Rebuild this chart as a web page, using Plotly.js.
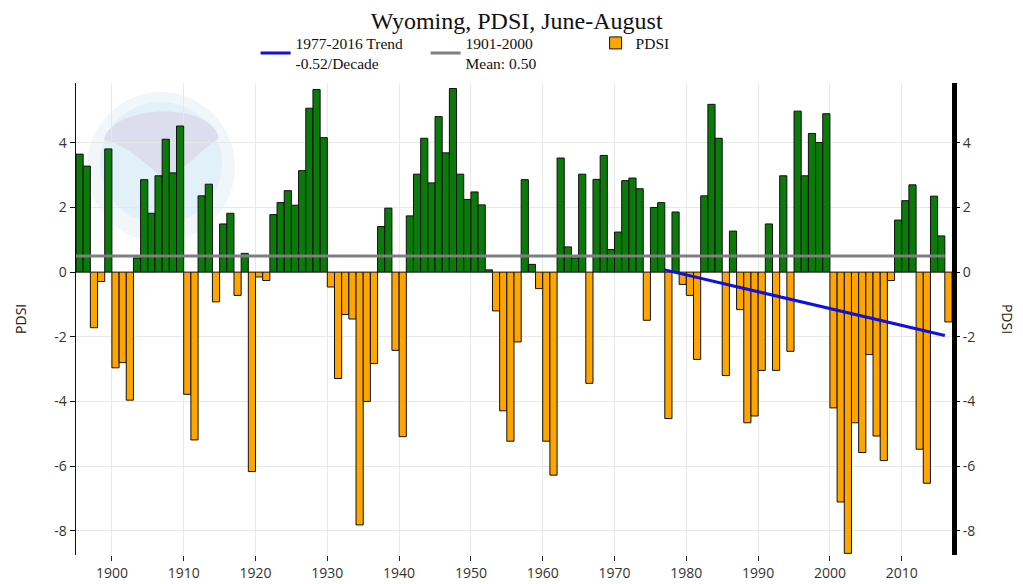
<!DOCTYPE html>
<html>
<head>
<meta charset="utf-8">
<script src="https://cdn.plot.ly/plotly-3.0.1.min.js"></script>
<style>html,body{margin:0;padding:0;background:#fff;}#chart{width:1023px;height:584px;}</style>
</head>
<body>
<div id="chart"></div>
<script>
var years = [1895,1896,1897,1898,1899,1900,1901,1902,1903,1904,1905,1906,1907,1908,1909,
1910,1911,1912,1913,1914,1915,1916,1917,1918,1919,1920,1921,1922,1923,1924,1925,1926,1927,1928,1929,
1930,1931,1932,1933,1934,1935,1936,1937,1938,1939,1940,1941,1942,1943,1944,1945,1946,1947,1948,1949,
1950,1951,1952,1953,1954,1955,1956,1957,1958,1959,1960,1961,1962,1963,1964,1965,1966,1967,1968,1969,
1970,1971,1972,1973,1974,1975,1976,1977,1978,1979,1980,1981,1982,1983,1984,1985,1986,1987,1988,1989,
1990,1991,1992,1993,1994,1995,1996,1997,1998,1999,2000,2001,2002,2003,2004,2005,2006,2007,2008,2009,
2010,2011,2012,2013,2014,2015,2016];

var pdsi = [3.65,3.28,-1.72,-0.29,3.81,-2.96,-2.80,-3.96,0.44,2.86,1.82,2.98,4.11,3.07,4.52,
-3.78,-5.19,2.36,2.72,-0.92,1.49,1.82,-0.72,0.58,-6.17,-0.15,-0.26,1.78,2.15,2.52,2.07,3.14,5.07,5.65,4.16,
-0.46,-3.29,-1.31,-1.45,-7.82,-4.00,-2.83,1.41,1.98,-2.42,-5.09,1.74,3.03,4.14,2.76,4.81,3.69,5.68,3.03,2.25,
2.48,2.08,0.07,-1.20,-4.29,-5.23,-2.16,2.86,0.24,-0.51,-5.23,-6.28,3.53,0.78,0.44,3.03,-3.44,2.87,3.61,0.70,
1.24,2.83,2.91,2.58,-1.49,2.00,2.15,-4.53,1.86,-0.38,-0.72,-2.70,2.36,5.19,4.14,-3.20,1.27,-1.16,-4.66,-4.45,
-3.04,1.49,-3.04,2.98,-2.45,4.98,2.98,4.29,4.01,4.90,-4.20,-7.11,-8.70,-4.66,-5.58,-2.55,-5.07,-5.83,-0.26,1.61,
2.21,2.70,-5.48,-6.53,2.35,1.12,-1.54];

var trendYears = [1977, 2016];
var trendValues = [0.07, -1.96];
var meanYears = [1895, 2016];
var meanValues = [0.50, 0.50];

var xTickYears = [1900,1910,1920,1930,1940,1950,1960,1970,1980,1990,2000,2010];
var yTicks = [-8,-6,-4,-2,0,2,4];

var posVals = pdsi.map(function(v){ return v > 0 ? v : null; });
var negVals = pdsi.map(function(v){ return v <= 0 ? v : null; });

var traces = [
  {type:'scatter', mode:'lines', x: trendYears, y: trendValues,
   name:'1977-2016 Trend<br>-0.52/Decade', line:{color:'#1010e0', width:3}},
  {type:'scatter', mode:'lines', x: meanYears, y: meanValues, yaxis:'y2',
   name:'1901-2000<br>Mean: 0.50', line:{color:'#7f7f7f', width:3}},
  {type:'bar', x: years, y: negVals, name:'PDSI', width:1, offset:0,
   marker:{color:'#ffa500', line:{color:'#111', width:1}}},
  {type:'bar', x: years, y: posVals, name:'PDSI+', showlegend:false, width:1, offset:0,
   marker:{color:'#0b7a0b', line:{color:'#111', width:1}}}
];

var tickFont = {family:'Open Sans, sans-serif', size:14, color:'#333'};
var px = function(p){ return (p-76)/876; };
var py = function(p){ return (555-p)/472; };

var layout = {
  width:1023, height:584,
  margin:{l:76, r:71, t:83, b:29},
  paper_bgcolor:'#fff', plot_bgcolor:'#fff',
  barmode:'overlay', bargap:0,
  title:{text:'Wyoming, PDSI, June-August', x:0.503, xref:'paper', y:0.964, yanchor:'middle', xanchor:'center',
         font:{family:'Liberation Serif, Times New Roman, serif', size:24, color:'#111'}},
  showlegend:true,
  legend:{orientation:'h', x:0.205, y:1.12, xanchor:'left', yanchor:'top',
          entrywidth:125, entrywidthmode:'pixels',
          font:{family:'Liberation Serif, Times New Roman, serif', size:15.5, color:'#111'},
          bgcolor:'rgba(0,0,0,0)', traceorder:'normal'},
  xaxis:{range:[1895,2017], tickvals:xTickYears, ticktext:xTickYears.map(String),
         showgrid:true, gridcolor:'#e8e8e8', gridwidth:1, zeroline:false, showline:false,
         ticks:'outside', ticklen:5, tickcolor:'#222', tickwidth:1, tickfont:tickFont, fixedrange:true},
  yaxis:{range:[-8.75,5.85], tickvals:yTicks, ticktext:yTicks.map(String),
         showgrid:true, gridcolor:'#e8e8e8', gridwidth:1, zeroline:false,
         showline:true, linecolor:'#111', linewidth:1.5,
         ticks:'outside', ticklen:5, tickcolor:'#111', tickfont:tickFont, fixedrange:true},
  yaxis2:{overlaying:'y', side:'right', matches:'y', tickvals:yTicks, ticktext:yTicks.map(String),
          showgrid:false, zeroline:false, showline:true, linecolor:'#000', linewidth:5,
          ticks:'outside', ticklen:3, tickcolor:'#000', tickfont:tickFont, fixedrange:true},
  annotations:[
    {text:'PDSI', xref:'paper', yref:'paper', x:-0.064, y:0.5, xanchor:'center', yanchor:'middle',
     textangle:-90, showarrow:false, font:{family:'Open Sans, sans-serif', size:14, color:'#222'}},
    {text:'PDSI', xref:'paper', yref:'paper', x:1.064, y:0.5, xanchor:'center', yanchor:'middle',
     textangle:90, showarrow:false, font:{family:'Open Sans, sans-serif', size:14, color:'#222'}}
  ],
  shapes:[
    {type:'circle', xref:'paper', yref:'paper', layer:'below',
     x0:px(87), x1:px(235), y0:py(242), y1:py(92), line:{width:0}, fillcolor:'rgba(232,240,248,0.6)'},
    {type:'circle', xref:'paper', yref:'paper', layer:'below',
     x0:px(100), x1:px(222), y0:py(224), y1:py(102), line:{width:0}, fillcolor:'#e2f0fa'},
    {type:'path', xref:'paper', yref:'paper', layer:'below', line:{width:0}, fillcolor:'#dcdeee',
     path:'M '+px(104)+' '+py(140)+' C '+px(110)+' '+py(105)+' '+px(210)+' '+py(100)+' '+px(219)+' '+py(138)+
          ' C '+px(200)+' '+py(150)+' '+px(180)+' '+py(175)+' '+px(165)+' '+py(178)+
          ' C '+px(150)+' '+py(170)+' '+px(130)+' '+py(145)+' '+px(104)+' '+py(140)+' Z'}
  ]
};

Plotly.newPlot('chart', traces, layout, {displayModeBar:false, staticPlot:true});
</script>
</body>
</html>
